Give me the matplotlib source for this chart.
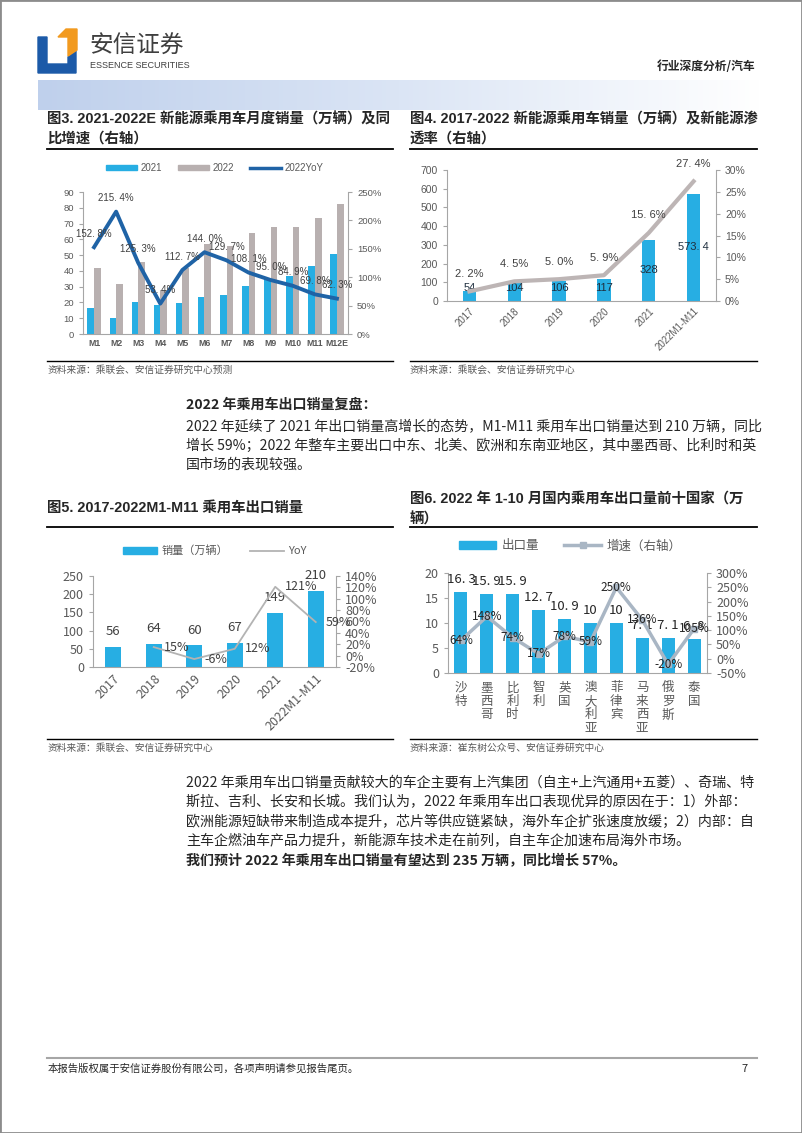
import matplotlib
matplotlib.use("Agg")
import numpy as np
import matplotlib.pyplot as plt
from matplotlib.lines import Line2D
from matplotlib.patches import Patch, Polygon, Rectangle
from matplotlib.colors import LinearSegmentedColormap
from matplotlib.ticker import FuncFormatter

plt.rcParams['font.family'] = ['Noto Sans CJK SC', 'DejaVu Sans']
plt.rcParams['axes.unicode_minus'] = False

# ---- data ----
# fig 3: monthly NEV passenger car sales (10k units) and 2022 YoY
months = ['M1', 'M2', 'M3', 'M4', 'M5', 'M6', 'M7', 'M8', 'M9', 'M10', 'M11', 'M12E']
nev_2021 = [16.5, 9.9, 20.1, 18.2, 19.7, 23.5, 24.7, 30.4, 34.7, 36.8, 42.8, 50.6]
nev_2022 = [41.9, 31.7, 45.5, 28.0, 41.9, 57.3, 56.0, 63.8, 67.7, 67.7, 73.4, 82.6]
nev_yoy = [152.8, 215.4, 125.3, 53.4, 112.7, 144.0, 129.7, 108.1, 95.0, 84.9, 69.8, 62.3]

# fig 4: yearly NEV sales and penetration
years = ['2017', '2018', '2019', '2020', '2021', '2022M1-M11']
nev_sales = [54, 104, 106, 117, 328, 573.4]
nev_sales_lbl = ['54', '104', '106', '117', '328', '573. 4']
nev_pen = [2.2, 4.5, 5.0, 5.9, 15.6, 27.4]

# fig 5: passenger car exports
export_sales = [56, 64, 60, 67, 149, 210]
export_yoy = [15, -6, 12, 121, 59]   # 2018 onwards

# fig 6: top ten destination countries, Jan-Oct 2022
countries = ['沙特', '墨西哥', '比利时', '智利', '英国', '澳大利亚', '菲律宾', '马来西亚', '俄罗斯', '泰国']
country_export = [16.3, 15.9, 15.9, 12.7, 10.9, 10, 10, 7.1, 7.1, 6.8]
country_export_lbl = ['16. 3', '15. 9', '15. 9', '12. 7', '10. 9', '10', '10', '7. 1', '7. 1', '6. 8']
country_growth = [64, 148, 74, 17, 78, 59, 250, 136, -20, 105]

SKY = '#27aee3'
WARM = '#b8b0b0'
NAVY = '#1f63a6'
SPINE = '#a6a6a6'
TICK = '#595959'
TXT = '#262626'
LAT = ['Liberation Sans', 'Noto Sans CJK SC']

W, H = 802, 1133
fig = plt.figure(figsize=(W / 100, H / 100), dpi=100)


def box(x0, y0, x1, y1):
    return fig.add_axes([x0 / W, 1 - y1 / H, (x1 - x0) / W, (y1 - y0) / H])


def ftext(x, y, s, **kw):
    kw.setdefault('va', 'center')
    kw.setdefault('color', TXT)
    fig.text(x / W, 1 - y / H, s, **kw)


def hline(x0, x1, y, color='black', lw=1.0):
    fig.add_artist(Line2D([x0 / W, x1 / W], [1 - y / H, 1 - y / H],
                          transform=fig.transFigure, color=color, lw=lw))


def pct(v, _):
    return f'{v:.0f}%'


def style_pair(ax, ax2, fs, fam):
    ax.spines['top'].set_visible(False)
    ax.spines['right'].set_visible(False)
    for s in ('top', 'left', 'bottom'):
        ax2.spines[s].set_visible(False)
    for s in ('left', 'bottom'):
        ax.spines[s].set_color(SPINE)
    ax2.spines['right'].set_color(SPINE)
    for a in (ax, ax2):
        a.tick_params(colors=SPINE, labelcolor=TICK, labelsize=fs, length=3, width=0.8)
        for lab in a.get_yticklabels():
            lab.set_family(fam)
    ax.tick_params(axis='x', length=0)


# ---- page frame and header ----
fig.add_artist(Rectangle((0, 0), 1, 1, transform=fig.transFigure, fill=False,
                         edgecolor='#8c8c8c', lw=2))
fig.add_artist(Polygon([(38 / W, 1 - 37 / H), (47 / W, 1 - 37 / H), (47 / W, 1 - 64 / H),
                        (68 / W, 1 - 64 / H), (68 / W, 1 - 57 / H), (76 / W, 1 - 51 / H),
                        (76 / W, 1 - 73 / H), (38 / W, 1 - 73 / H)],
                       closed=True, transform=fig.transFigure, color='#1c5aa8'))
fig.add_artist(Polygon([(58 / W, 1 - 37 / H), (66 / W, 1 - 29 / H), (77 / W, 1 - 29 / H),
                        (77 / W, 1 - 50 / H), (68 / W, 1 - 56 / H), (68 / W, 1 - 37 / H)],
                       closed=True, transform=fig.transFigure, color='#f29a1f'))
ftext(89, 46, '安信证券', fontsize=17, color='#3f3f3f')
ftext(90, 66, 'ESSENCE SECURITIES', fontsize=6.5, color='#3f3f3f',
      family=['Liberation Sans Narrow', 'Liberation Sans'])
ftext(755, 67, '行业深度分析/汽车', fontsize=8.5, ha='right', weight='bold')

band = box(38, 80, 760, 110)
cmap = LinearSegmentedColormap.from_list('band', ['#bfd0ec', '#dbe5f5', '#ffffff'])
band.imshow(np.linspace(0, 1, 256)[None, :], aspect='auto', cmap=cmap, extent=(0, 1, 0, 1))
band.axis('off')

# ---- titles, rules and sources ----
TFS = 10.4
ftext(47, 119, '图3. 2021-2022E 新能源乘用车月度销量（万辆）及同', fontsize=TFS, weight='bold', family=LAT)
ftext(47, 139, '比增速（右轴）', fontsize=TFS, weight='bold')
ftext(410, 119, '图4. 2017-2022 新能源乘用车销量（万辆）及新能源渗', fontsize=TFS, weight='bold', family=LAT)
ftext(410, 139, '透率（右轴）', fontsize=TFS, weight='bold')
hline(47, 393, 149, lw=1.3)
hline(410, 757, 149, lw=1.3)
hline(47, 393, 361, lw=1.0)
hline(410, 757, 361, lw=1.0)
ftext(48, 370, '资料来源：乘联会、安信证券研究中心预测', fontsize=7, color='#595959')
ftext(410, 370, '资料来源：乘联会、安信证券研究中心', fontsize=7, color='#595959')

ftext(47, 508, '图5. 2017-2022M1-M11 乘用车出口销量', fontsize=TFS, weight='bold', family=LAT)
ftext(410, 500, '图6. 2022 年 1-10 月国内乘用车出口量前十国家（万', fontsize=TFS, weight='bold', family=LAT)
ftext(410, 519, '辆）', fontsize=TFS, weight='bold')
hline(47, 393, 527, lw=1.3)
hline(410, 757, 527, lw=1.3)
hline(47, 393, 739, lw=1.0)
hline(410, 757, 739, lw=1.0)
ftext(48, 748, '资料来源：乘联会、安信证券研究中心', fontsize=7, color='#595959')
ftext(410, 748, '资料来源：崔东树公众号、安信证券研究中心', fontsize=7, color='#595959')

# ---- body text ----
BFS = 10.1
ftext(186, 405, '2022 年乘用车出口销量复盘：', fontsize=BFS, weight='bold')
para1 = ['2022 年延续了 2021 年出口销量高增长的态势，M1-M11 乘用车出口销量达到 210 万辆，同比',
         '增长 59%；2022 年整车主要出口中东、北美、欧洲和东南亚地区，其中墨西哥、比利时和英',
         '国市场的表现较强。']
for i, line in enumerate(para1):
    ftext(186, 427 + i * 19, line, fontsize=BFS)

para2 = ['2022 年乘用车出口销量贡献较大的车企主要有上汽集团（自主+上汽通用+五菱）、奇瑞、特',
         '斯拉、吉利、长安和长城。我们认为，2022 年乘用车出口表现优异的原因在于：1）外部：',
         '欧洲能源短缺带来制造成本提升，芯片等供应链紧缺，海外车企扩张速度放缓；2）内部：自',
         '主车企燃油车产品力提升，新能源车技术走在前列，自主车企加速布局海外市场。']
for i, line in enumerate(para2):
    ftext(186, 783 + i * 19.5, line, fontsize=BFS)
ftext(186, 861, '我们预计 2022 年乘用车出口销量有望达到 235 万辆，同比增长 57%。', fontsize=BFS, weight='bold')

# ---- footer ----
hline(47, 757, 1058, color='#a6a6a6', lw=1.5)
ftext(48, 1069, '本报告版权属于安信证券股份有限公司，各项声明请参见报告尾页。', fontsize=7.5)
ftext(741, 1069, '7', fontsize=8)

# ---- fig 3 ----
ax = box(83, 192, 348, 334)
x = np.arange(len(months))
w = 0.3
ax.bar(x - w / 2, nev_2021, w, color=SKY)
ax.bar(x + w / 2, nev_2022, w, color=WARM)
ax.set_xlim(-0.5, len(months) - 0.5)
ax.set_ylim(0, 90)
ax.set_yticks(range(0, 91, 10))
ax.set_xticks(x)
ax.set_xticklabels(months, family=LAT, weight='bold')
ax2 = ax.twinx()
ax2.plot(x, nev_yoy, color=NAVY, lw=2.8, solid_joinstyle='round')
ax2.set_ylim(0, 250)
ax2.set_yticks(range(0, 251, 50))
ax2.yaxis.set_major_formatter(FuncFormatter(pct))
for xi, v in zip(x, nev_yoy):
    ax2.annotate(f'{v:.1f}%'.replace('.', '. '), (xi, v), xytext=(0, 6), textcoords='offset points',
                 ha='center', va='bottom', fontsize=7, color='#404040', family=LAT)
style_pair(ax, ax2, 6.8, LAT)
ax.tick_params(axis='x', labelsize=6.3)
ax.legend([Patch(color=SKY), Patch(color=WARM), Line2D([], [], color=NAVY, lw=2.5)],
          ['2021', '2022', '2022YoY'], ncol=3, loc='center', frameon=False,
          bbox_to_anchor=(215 / W, 1 - 168 / H), bbox_transform=fig.transFigure,
          prop={'family': LAT, 'size': 7}, labelcolor=TICK,
          handlelength=3.2, handleheight=0.5, columnspacing=1.6, handletextpad=0.4)

# ---- fig 4 ----
ax = box(447, 170, 716, 301)
x = np.arange(len(years))
ax.bar(x, nev_sales, 0.3, color=SKY)
ax.set_xlim(-0.5, len(years) - 0.5)
ax.set_ylim(0, 700)
ax.set_yticks(range(0, 701, 100))
ax.set_xticks(x)
ax.set_xticklabels(years, rotation=45, ha='right', rotation_mode='anchor', family=LAT)
for xi, v, s in zip(x, nev_sales, nev_sales_lbl):
    ax.text(xi, max(v / 2, 68), s, ha='center', va='center', fontsize=8, color='#1f2f3f', family=LAT)
ax2 = ax.twinx()
ax2.plot(x, nev_pen, color='#bdb5b5', lw=3)
ax2.set_ylim(0, 30)
ax2.set_yticks(range(0, 31, 5))
ax2.yaxis.set_major_formatter(FuncFormatter(pct))
for xi, v in zip(x, nev_pen):
    ax2.annotate(f'{v:.1f}%'.replace('.', '. '), (xi, v), xytext=(0, 9), textcoords='offset points',
                 ha='center', va='bottom', fontsize=8, color='#404040', family=LAT)
style_pair(ax, ax2, 7.5, LAT)
ax.tick_params(axis='x', labelsize=7)

# ---- fig 5 ----
ax = box(93, 576, 336, 667)
x = np.arange(len(years))
ax.bar(x, export_sales, 0.4, color=SKY)
ax.set_xlim(-0.5, len(years) - 0.5)
ax.set_ylim(0, 250)
ax.set_yticks(range(0, 251, 50))
ax.set_xticks(x)
ax.set_xticklabels(years, rotation=45, ha='right', rotation_mode='anchor')
for xi, v in zip(x, export_sales):
    ax.annotate(f'{v}', (xi, v), xytext=(0, 6), textcoords='offset points',
                ha='center', va='bottom', fontsize=9.5, color='#404040')
ax2 = ax.twinx()
ax2.plot(x[1:], export_yoy, color='#b3b3b3', lw=1.3)
ax2.set_ylim(-20, 140)
ax2.set_yticks(range(-20, 141, 20))
ax2.yaxis.set_major_formatter(FuncFormatter(pct))
for xi, v in zip(x[1:], export_yoy):
    ax2.annotate(f'{v}%', (xi, v), xytext=(7, 0), textcoords='offset points',
                 ha='left', va='center', fontsize=9, color='#404040')
style_pair(ax, ax2, 9, ['Noto Sans CJK SC'])
ax.tick_params(axis='x', labelsize=9)
ax.legend([Patch(color=SKY), Line2D([], [], color='#b3b3b3', lw=1.3)],
          ['销量（万辆）', 'YoY'], ncol=2, loc='center', frameon=False,
          bbox_to_anchor=(215 / W, 1 - 551 / H), bbox_transform=fig.transFigure,
          prop={'size': 8}, labelcolor=TICK,
          handlelength=3.0, handleheight=0.5, columnspacing=2.0, handletextpad=0.4)

# ---- fig 6 ----
ax = box(448, 573, 707, 673)
x = np.arange(len(countries))
ax.bar(x, country_export, 0.5, color=SKY)
ax.set_xlim(-0.5, len(countries) - 0.5)
ax.set_ylim(0, 20)
ax.set_yticks(range(0, 21, 5))
ax.set_xticks(x)
ax.set_xticklabels(['\n'.join(c) for c in countries], linespacing=1.05, va='top')
for xi, v, s in zip(x, country_export, country_export_lbl):
    ax.annotate(s, (xi, v), xytext=(0, 4), textcoords='offset points',
                ha='center', va='bottom', fontsize=9.5, color='#262626')
ax2 = ax.twinx()
ax2.plot(x, country_growth, color='#a9b6c4', lw=2.5, marker='s', markersize=5)
ax2.set_ylim(-50, 300)
ax2.set_yticks(range(-50, 301, 50))
ax2.yaxis.set_major_formatter(FuncFormatter(pct))
for xi, v in zip(x, country_growth):
    ax2.text(xi, v, f'{v}%', ha='center', va='center', fontsize=8.5, color='#262626')
style_pair(ax, ax2, 9, ['Noto Sans CJK SC'])
ax.tick_params(axis='x', labelsize=9, pad=6)
ax.legend([Patch(color=SKY), Line2D([], [], color='#a9b6c4', lw=2.5, marker='s', markersize=5)],
          ['出口量', '增速（右轴）'], ncol=2, loc='center', frameon=False,
          bbox_to_anchor=(570 / W, 1 - 546 / H), bbox_transform=fig.transFigure,
          prop={'size': 9}, labelcolor=TICK,
          handlelength=3.0, handleheight=0.6, columnspacing=2.0, handletextpad=0.4)

fig.savefig('out.png', dpi=100)
